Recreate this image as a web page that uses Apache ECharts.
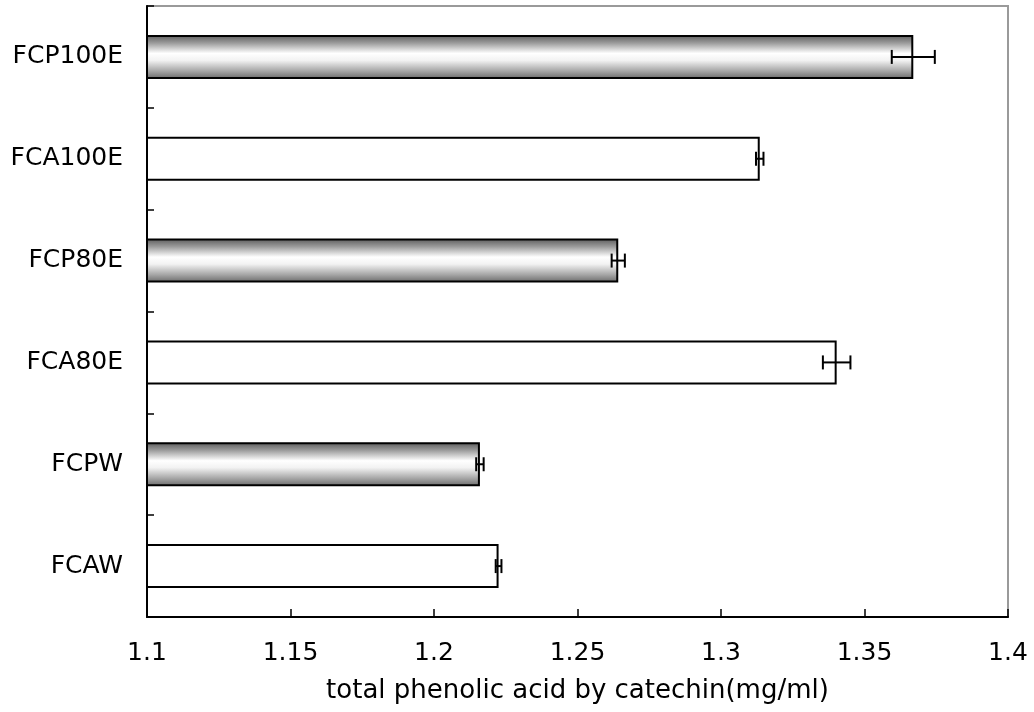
<!DOCTYPE html>
<html>
<head>
<meta charset="utf-8">
<script src="https://cdn.jsdelivr.net/npm/echarts@6/dist/echarts.min.js"></script>
<style>
  html, body { margin: 0; padding: 0; background: #fff; }
  #chart { width: 1034px; height: 712px; }
</style>
</head>
<body>
<div id="chart"></div>
<script>
// Samples, top to bottom
const categories = ['FCP100E', 'FCA100E', 'FCP80E', 'FCA80E', 'FCPW', 'FCAW'];
// Mean total phenolic acid (mg/ml, catechin equivalent)
const means = [1.367, 1.3135, 1.2642, 1.3403, 1.2160, 1.2225];
// Standard deviations
const errors = [0.0075, 0.0013, 0.0023, 0.0048, 0.0013, 0.0010];
// Shaded (P) or plain (A) bar style
const shaded = [true, false, true, false, true, false];
const xTicks = [1.1, 1.15, 1.2, 1.25, 1.3, 1.35, 1.4];

const font = '"DejaVu Sans", "Liberation Sans", sans-serif';

const shadedFill = new echarts.graphic.LinearGradient(0, 0, 0, 1, [
  { offset: 0, color: '#5a5a5a' },
  { offset: 0.18, color: '#9a9a9a' },
  { offset: 0.42, color: '#ffffff' },
  { offset: 0.58, color: '#f2f2f2' },
  { offset: 0.82, color: '#a6a6a6' },
  { offset: 1, color: '#686868' }
]);

const barData = means.map((v, i) => ({
  value: v,
  itemStyle: { color: shaded[i] ? shadedFill : '#ffffff' }
}));

const errData = means.map((v, i) => [i, v - errors[i], v + errors[i]]);

const chart = echarts.init(document.getElementById('chart'), null, { renderer: 'canvas' });

chart.setOption({
  animation: false,
  backgroundColor: '#ffffff',
  grid: {
    left: 147, right: 26, top: 6, bottom: 95,
    show: true, borderColor: '#9a9a9a', borderWidth: 2, backgroundColor: 'transparent'
  },
  xAxis: {
    type: 'value',
    min: 1.1, max: 1.4, interval: 0.05,
    name: 'total phenolic acid by catechin(mg/ml)',
    nameLocation: 'middle',
    nameGap: 61,
    nameTextStyle: { fontFamily: font, fontSize: 26, color: '#000' },
    axisLine: { show: true, lineStyle: { color: '#000', width: 2 } },
    axisTick: { show: true, inside: true, length: 8, lineStyle: { color: '#000', width: 1.5 } },
    axisLabel: {
      margin: 24, fontFamily: font, fontSize: 25, color: '#000',
      formatter: v => {
        const m = xTicks.find(t => Math.abs(t - v) < 1e-9);
        return m !== undefined ? String(m) : '';
      }
    },
    splitLine: { show: false }
  },
  yAxis: {
    type: 'category',
    data: categories,
    inverse: true,
    axisLine: { show: true, lineStyle: { color: '#000', width: 2 } },
    axisTick: { show: true, inside: true, length: 7, lineStyle: { color: '#000', width: 1.5 } },
    axisLabel: { margin: 24, fontFamily: font, fontSize: 25, color: '#000' },
    splitLine: { show: false }
  },
  series: [
    {
      type: 'bar',
      data: barData,
      barWidth: 44,
      itemStyle: { borderColor: '#000', borderWidth: 2 }
    },
    {
      type: 'custom',
      data: errData,
      z: 5,
      renderItem: (params, api) => {
        const idx = api.value(0);
        const lo = api.coord([api.value(1), idx]);
        const hi = api.coord([api.value(2), idx]);
        const cap = 7;
        const style = { stroke: '#000', lineWidth: 2 };
        return {
          type: 'group',
          children: [
            { type: 'line', shape: { x1: lo[0], y1: lo[1], x2: hi[0], y2: hi[1] }, style },
            { type: 'line', shape: { x1: lo[0], y1: lo[1] - cap, x2: lo[0], y2: lo[1] + cap }, style },
            { type: 'line', shape: { x1: hi[0], y1: hi[1] - cap, x2: hi[0], y2: hi[1] + cap }, style }
          ]
        };
      }
    }
  ]
});
</script>
</body>
</html>
